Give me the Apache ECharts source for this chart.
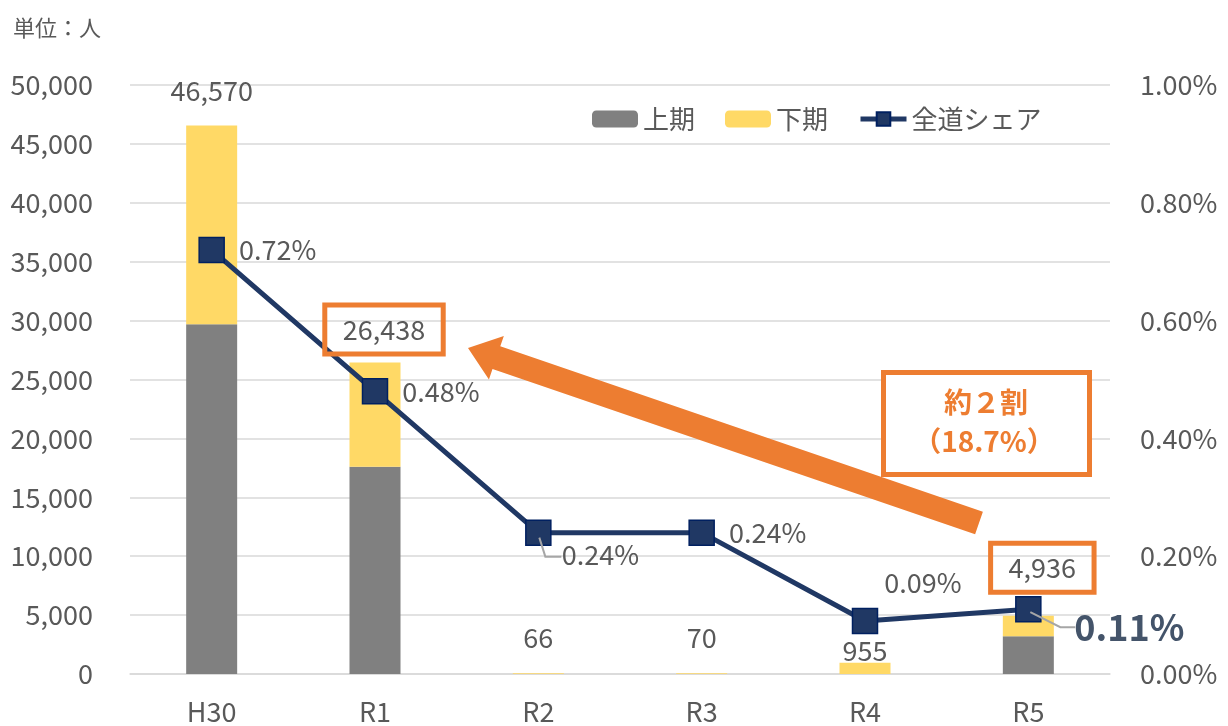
<!DOCTYPE html>
<html>
<head>
<meta charset="utf-8">
<script src="https://cdn.jsdelivr.net/npm/echarts@6/dist/echarts.min.js"></script>
<style>
  html, body { margin: 0; padding: 0; background: #fff; }
  #chart { width: 1228px; height: 726px; }
</style>
</head>
<body>
<div id="chart"></div>
<script>
  // 区分
  var categories = ['H30', 'R1', 'R2', 'R3', 'R4', 'R5'];
  // 上期・下期（人）
  var upperValues = [29700, 17600, 0, 0, 0, 3200];
  var lowerValues = [16870, 8838, 66, 70, 955, 1736];
  // 全道シェア（%）
  var shareValues = [0.72, 0.48, 0.24, 0.24, 0.09, 0.11];
  // 目盛
  var leftTicks = { min: 0, max: 50000, interval: 5000 };
  var rightTicks = { min: 0, max: 1.0, interval: 0.2 };

  var totals = upperValues.map(function (v, i) { return v + lowerValues[i]; });

  var font = 'Noto Sans CJK JP';
  var textColor = '#595959';
  var orange = '#ED7D31';
  var navy = '#203864';

  // 合計ラベルの位置（Excel で手動配置されていた分）
  var totalOffsets = [[0, -35], [9, -33], [0, -35], [0, -35], [0, -12], [14, -48]];
  var boxed = [false, true, false, false, false, true];

  var totalData = totals.map(function (v, i) {
    var lb = {
      show: true,
      position: 'inside',
      offset: totalOffsets[i],
      formatter: v.toLocaleString('en-US'),
      fontSize: 27,
      fontFamily: font,
      color: textColor,
      opacity: 1
    };
    if (boxed[i]) {
      lb.borderColor = orange;
      lb.borderWidth = 5;
      lb.padding = [14, 18, 8, 18];
    }
    return { value: v, label: lb };
  });

  var shareLabel = [
    { position: 'right', distance: 14 },
    { position: 'right', distance: 14 },
    { position: 'inside', offset: [62, 22] },
    { position: 'right', distance: 14 },
    { position: 'inside', offset: [58, -38] },
    { position: 'inside', offset: [101, 18], fontSize: 36, fontWeight: 'bold', color: '#44546A' }
  ];
  var shareData = shareValues.map(function (v, i) {
    return { value: v, label: shareLabel[i] };
  });

  var myChart = echarts.init(document.getElementById('chart'));
  var option = {
    animation: false,
    textStyle: { fontFamily: font },
    title: {
      text: '単位：人',
      left: 8,
      top: 12,
      textStyle: { fontSize: 22, fontWeight: 'normal', color: textColor, fontFamily: font }
    },
    legend: {
      data: ['上期', '下期', { name: '全道シェア', lineStyle: { width: 5 } }],
      left: 587,
      top: 101,
      itemWidth: 46,
      itemHeight: 17,
      itemGap: 30,
      textStyle: { fontSize: 26, color: textColor, fontFamily: font }
    },
    grid: { left: 130, right: 118, top: 85, bottom: 52 },
    xAxis: [{
      type: 'category',
      data: categories,
      axisTick: { show: false },
      axisLine: { lineStyle: { color: '#D9D9D9', width: 1.5 } },
      axisLabel: { fontSize: 27, color: textColor, margin: 24, fontFamily: font }
    }],
    yAxis: [
      {
        type: 'value',
        min: leftTicks.min,
        max: leftTicks.max,
        interval: leftTicks.interval,
        axisLine: { show: false },
        axisTick: { show: false },
        splitLine: { lineStyle: { color: '#D9D9D9', width: 1.5 } },
        axisLabel: {
          fontSize: 27, color: textColor, margin: 37, fontFamily: font,
          formatter: function (v) { return v.toLocaleString('en-US'); }
        }
      },
      {
        type: 'value',
        min: rightTicks.min,
        max: rightTicks.max,
        interval: rightTicks.interval,
        position: 'right',
        axisLine: { show: false },
        axisTick: { show: false },
        splitLine: { show: false },
        axisLabel: {
          fontSize: 27, color: textColor, margin: 30, fontFamily: font,
          formatter: function (v) { return v.toFixed(2) + '%'; }
        }
      }
    ],
    series: [
      {
        name: '上期',
        type: 'bar',
        stack: 'total',
        barWidth: 51,
        itemStyle: { color: '#808080' },
        data: upperValues
      },
      {
        name: '下期',
        type: 'bar',
        stack: 'total',
        barWidth: 51,
        itemStyle: { color: '#FFD966' },
        data: lowerValues
      },
      {
        name: '全道シェア',
        type: 'line',
        yAxisIndex: 1,
        symbol: 'rect',
        symbolSize: 25,
        z: 5,
        lineStyle: { color: navy, width: 5 },
        itemStyle: { color: navy, borderColor: '#002060', borderWidth: 1.5 },
        label: {
          show: true,
          fontSize: 27,
          fontFamily: font,
          color: textColor,
          formatter: function (p) { return p.value.toFixed(2) + '%'; }
        },
        data: shareData
      },
      {
        name: '合計',
        type: 'scatter',
        symbolSize: 1,
        silent: true,
        z: 6,
        itemStyle: { color: 'rgba(0,0,0,0)', opacity: 1 },
        data: totalData
      }
    ]
  };
  myChart.setOption(option, true);

  // 引き出し線と注釈（矢印・割合ボックス）
  function arrowPoints(tail, tip, shaftHalf, headHalf, headLen) {
    var dx = tip[0] - tail[0], dy = tip[1] - tail[1];
    var len = Math.sqrt(dx * dx + dy * dy);
    var ux = dx / len, uy = dy / len;
    var nx = -uy, ny = ux;
    var bx = tip[0] - ux * headLen, by = tip[1] - uy * headLen;
    return [
      [tail[0] + nx * shaftHalf, tail[1] + ny * shaftHalf],
      [bx + nx * shaftHalf, by + ny * shaftHalf],
      [bx + nx * headHalf, by + ny * headHalf],
      tip,
      [bx - nx * headHalf, by - ny * headHalf],
      [bx - nx * shaftHalf, by - ny * shaftHalf],
      [tail[0] - nx * shaftHalf, tail[1] - ny * shaftHalf]
    ];
  }

  var p2 = myChart.convertToPixel({ seriesIndex: 2 }, [2, shareValues[2]]);
  var p5 = myChart.convertToPixel({ seriesIndex: 2 }, [5, shareValues[5]]);
  var leader = { stroke: '#A6A6A6', lineWidth: 2, fill: null };

  myChart.setOption({
    graphic: [
      {
        type: 'polyline', z: 10,
        shape: { points: [[p2[0] + 1, p2[1] + 5], [p2[0] + 7, p2[1] + 24], [p2[0] + 23, p2[1] + 24]] },
        style: leader
      },
      {
        type: 'polyline', z: 10,
        shape: { points: [[p5[0] + 2, p5[1] + 3], [p5[0] + 32, p5[1] + 18], [p5[0] + 47, p5[1] + 18]] },
        style: leader
      },
      {
        type: 'polygon', z: 4,
        shape: { points: arrowPoints([979, 523], [468, 348], 12, 23, 30) },
        style: { fill: orange }
      },
      {
        type: 'rect', z: 4,
        shape: { x: 883.5, y: 372.5, width: 206, height: 102 },
        style: { fill: '#fff', stroke: orange, lineWidth: 5 }
      },
      {
        type: 'text', z: 5,
        x: 986, y: 402,
        style: {
          text: '約２割', fill: orange, font: 'bold 28px "Noto Sans CJK JP"',
          align: 'center', verticalAlign: 'middle'
        }
      },
      {
        type: 'text', z: 5,
        x: 984, y: 441,
        style: {
          text: '（18.7%）', fill: orange, font: 'bold 28px "Noto Sans CJK JP"',
          align: 'center', verticalAlign: 'middle'
        }
      }
    ]
  });
</script>
</body>
</html>
